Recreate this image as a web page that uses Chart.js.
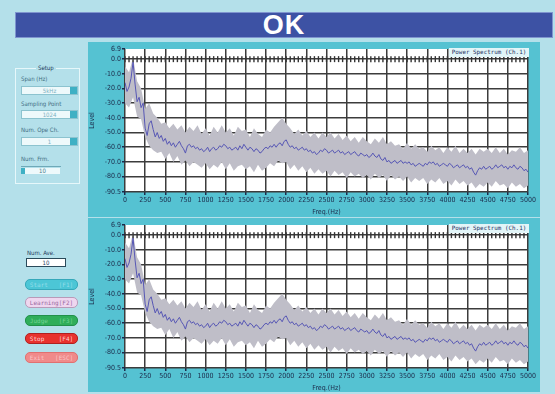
<!DOCTYPE html>
<html>
<head>
<meta charset="utf-8">
<script src="https://cdn.jsdelivr.net/npm/chart.js@4.4.0/dist/chart.umd.min.js"></script>
<style>
  body { margin: 0; width: 555px; height: 394px; background: #b4e0ea; position: relative; overflow: hidden;
         font-family: "DejaVu Sans Condensed", sans-serif; }
  .abs { position: absolute; }
  #title { left: 15px; top: 12px; width: 536px; height: 24px; background: #3d52a4; border: 1px solid #7f95cf;
           color: #fff; font: bold 27px "Liberation Sans", sans-serif; text-align: center; line-height: 25px; letter-spacing: 1px; }
  .panel { left: 88px; width: 452px; background: #55c2d2; }
  .tag { width: 80px; height: 9px; background: #e2f5f8; color: #1f3060; font: 5.9px "DejaVu Sans Mono", monospace;
         line-height: 9px; white-space: pre; text-align: center; overflow: hidden; }
  .lbl { font-size: 6px; color: #3f6d82; white-space: pre; }
  .drop { left: 21px; width: 55px; height: 7px; background: #eef9fb; border: 1px solid #8cc3cf;
          font-size: 6px; line-height: 7px; color: #7db2c2; text-align: center; }
  .drop::after { content: ""; position: absolute; right: 0; top: 0; width: 7px; height: 7px; background: #3fb0c4; }
  .btn { left: 25px; width: 51px; height: 9px; border-radius: 5px; border: 1px solid;
         font: 6px "DejaVu Sans Mono", monospace; line-height: 9px; text-align: center; white-space: pre; }
</style>
</head>
<body>
<div id="title" class="abs">OK</div>

<div class="abs" style="left:15px;top:68px;width:63px;height:114px;border:1px solid #e6f7fa;"></div>
<div class="abs lbl" style="left:36px;top:64px;background:#b4e0ea;padding:0 2px;color:#1f3a5a;">Setup</div>
<div class="abs lbl" style="left:21px;top:75px;">Span (Hz)</div>
<div class="abs drop" style="top:86px;">5kHz</div>
<div class="abs lbl" style="left:21px;top:100px;">Sampling Point</div>
<div class="abs drop" style="top:110px;">1024</div>
<div class="abs lbl" style="left:21px;top:126px;">Num. Ope Ch.</div>
<div class="abs drop" style="top:137px;">1</div>
<div class="abs lbl" style="left:21px;top:155px;">Num. Frm.</div>
<div class="abs" style="left:21px;top:166px;width:40px;height:1px;background:#6fa9b8;"></div>
<div class="abs" style="left:21px;top:168px;width:4px;height:6px;background:#3fb0c4;"></div>
<div class="abs lbl" style="left:25px;top:168px;width:35px;height:6px;line-height:6px;background:#eef9fb;color:#4a7d8e;text-align:center;">10</div>

<div class="abs lbl" style="left:27px;top:249px;color:#1f3a5a;">Num. Ave.</div>
<div class="abs lbl" style="left:26px;top:258px;width:38px;height:7px;line-height:7px;background:#fff;border:1px solid #2a4a5a;color:#1f3a5a;text-align:center;">10</div>

<div class="abs btn" style="top:279px;background:#4cc6d6;border-color:#36a8ba;color:#93dde9;">Start   [F1]</div>
<div class="abs btn" style="top:297px;background:#efd6ef;border-color:#b89ab8;color:#9a6aa0;">Learning[F2]</div>
<div class="abs btn" style="top:315px;background:#2fae5a;border-color:#22904a;color:#74d394;">Judge   [F3]</div>
<div class="abs btn" style="top:333px;background:#e8322e;border-color:#b02020;color:#ffd0d0;">Stop    [F4]</div>
<div class="abs btn" style="top:352px;background:#f08a8a;border-color:#e07070;color:#f9c4c4;">Exit   [ESC]</div>

<div class="abs panel" style="top:42px;height:175px;"><canvas id="chart1" width="452" height="175"></canvas></div>
<div class="abs panel" style="top:218px;height:174px;"><canvas id="chart2" width="452" height="175"></canvas></div>
<div class="abs tag" style="left:449px;top:48px;">Power Spectrum (Ch.1)</div>
<div class="abs tag" style="left:449px;top:224px;">Power Spectrum (Ch.1)</div>

<script>
// averaged spectrum, 25 Hz bins (dB)
const meanStep = 25;
const meanLevel = [
  -16, -22, -19, -13, -2, -17, -29, -26, -33, -30,
  -47, -52, -44, -42, -48, -53, -50, -54, -52, -56,
  -54, -58, -56, -59, -57, -60, -58, -56, -59, -61,
  -64, -59, -58, -60, -59, -61, -60, -62, -61, -63,
  -62, -60, -63, -61, -60, -62, -61, -59, -60, -58,
  -59, -61, -60, -62, -61, -60, -62, -59, -61, -58,
  -60, -62, -60, -61, -63, -61, -62, -64, -63, -61,
  -60, -61, -59, -60, -58, -60, -58, -57, -59, -56,
  -55, -58, -60, -59, -61, -60, -62, -61, -60, -62,
  -61, -63, -62, -64, -63, -65, -64, -62, -63, -61,
  -62, -64, -63, -62, -64, -63, -62, -64, -63, -65,
  -64, -63, -65, -64, -63, -65, -66, -64, -65, -66,
  -65, -67, -66, -64, -66, -67, -65, -68, -69, -67,
  -70, -69, -71, -70, -69, -71, -70, -69, -71, -70,
  -71, -70, -72, -71, -73, -72, -71, -72, -73, -71,
  -72, -70, -71, -70, -72, -71, -73, -72, -71, -72,
  -73, -71, -72, -74, -73, -72, -74, -73, -72, -74,
  -73, -75, -74, -77, -79, -76, -74, -75, -73, -75,
  -74, -73, -75, -74, -72, -74, -73, -72, -74, -73,
  -75, -73, -74, -72, -74, -75, -73, -74, -76, -75,
  -77
];

// min / max envelope over frames, 50 Hz bins (dB)
const bandStep = 50;
const bandUpper = [
  -5, -9, 1, -15, -20, -34, -30, -37, -40, -44,
  -43, -47, -44, -48, -45, -50, -46, -49, -45, -51,
  -47, -52, -46, -50, -45, -50, -47, -52, -46, -49,
  -48, -53, -47, -51, -53, -48, -50, -46, -43, -40,
  -44, -47, -51, -48, -52, -49, -53, -50, -54, -50,
  -53, -50, -54, -51, -55, -52, -56, -53, -57, -53,
  -56, -58, -54, -57, -53, -58, -56, -59, -58, -61,
  -57, -61, -58, -61, -60, -63, -59, -62, -60, -64,
  -60, -63, -59, -64, -61, -64, -61, -65, -61, -63,
  -61, -64, -60, -64, -61, -65, -62, -63, -60, -64,
  -62
];
const bandLower = [
  -30, -33, -26, -39, -41, -53, -59, -62, -64, -63,
  -68, -64, -70, -66, -72, -69, -73, -70, -72, -74,
  -71, -75, -72, -74, -70, -75, -71, -76, -73, -72,
  -75, -73, -77, -72, -76, -74, -71, -73, -69, -71,
  -70, -75, -72, -76, -73, -77, -74, -78, -75, -78,
  -76, -80, -76, -79, -77, -81, -77, -80, -78, -81,
  -79, -82, -78, -81, -79, -83, -79, -82, -80, -83,
  -80, -84, -81, -83, -81, -85, -82, -84, -81, -85,
  -83, -86, -82, -85, -83, -86, -84, -88, -85, -87,
  -84, -87, -83, -86, -85, -88, -84, -87, -85, -88,
  -86
];

const levelTicks = [6.9, 0, -10, -20, -30, -40, -50, -60, -70, -80, -90.5];
const zeroLevel = 0;

const FONT = 'DejaVu Sans Condensed';
const INK = '#1c2a4a';
const GRID = '#3c3c3c';

const toPoints = (vals, step) => vals.map((v, i) => ({ x: i * step, y: v }));
const zeroMarks = bandUpper.map((v, i) => ({ x: i * bandStep, y: zeroLevel }));

const plotBg = {
  id: 'plotBg',
  beforeDraw(c) {
    const a = c.chartArea;
    c.ctx.save();
    c.ctx.fillStyle = '#fff';
    c.ctx.fillRect(a.left - 1, a.top, a.right - a.left + 1, a.bottom - a.top);
    c.ctx.restore();
  }
};

function makeChart(id) {
  return new Chart(document.getElementById(id), {
    type: 'line',
    data: {
      datasets: [
        { data: zeroMarks, showLine: false, pointStyle: 'line', rotation: 90, pointRadius: 3,
          borderColor: '#333', borderWidth: 1.4, order: 0 },
        { data: toPoints(meanLevel, meanStep), borderColor: '#5757b5', borderWidth: 1,
          pointRadius: 0, fill: false, order: 1 },
        { data: toPoints(bandUpper, bandStep), borderWidth: 0, borderColor: 'rgba(0,0,0,0)',
          backgroundColor: '#bfbec8', pointRadius: 0, fill: '+1', order: 2 },
        { data: toPoints(bandLower, bandStep), borderWidth: 0, borderColor: 'rgba(0,0,0,0)',
          pointRadius: 0, fill: false, order: 3 }
      ]
    },
    options: {
      responsive: false,
      animation: false,
      devicePixelRatio: 1,
      layout: { padding: { left: 0, right: 12, top: 7, bottom: 0 } },
      plugins: { legend: { display: false }, tooltip: { enabled: false } },
      scales: {
        x: {
          type: 'linear', min: 0, max: 5000,
          ticks: { stepSize: 250, autoSkip: false, maxRotation: 0, padding: 1,
                   font: { family: FONT, size: 7 }, color: INK, callback: v => String(v) },
          grid: { color: GRID, lineWidth: 1.5, tickLength: 3, tickColor: INK },
          border: { display: false },
          title: { display: true, text: 'Freq.(Hz)', color: INK, font: { family: FONT, size: 7 },
                   padding: { top: 0, bottom: 1 } },
          afterFit(s) { s.height = 25; }
        },
        y: {
          min: -90.5, max: 6.9,
          afterBuildTicks(s) { s.ticks = levelTicks.map(v => ({ value: v })); },
          ticks: { padding: 1, font: { family: FONT, size: 7 }, color: INK,
                   callback: v => Number(v).toFixed(1) },
          grid: { color: ctx => (ctx.tick && ctx.tick.value === 6.9) ? 'rgba(0,0,0,0)' : GRID,
                  lineWidth: 1.5, tickLength: 3, tickColor: INK },
          border: { display: false },
          title: { display: true, text: 'Level', color: INK, font: { family: FONT, size: 7 },
                   padding: { top: 0, bottom: 2 } },
          afterFit(s) { s.width = 37; }
        }
      }
    },
    plugins: [plotBg]
  });
}

makeChart('chart1');
makeChart('chart2');
</script>
</body>
</html>
